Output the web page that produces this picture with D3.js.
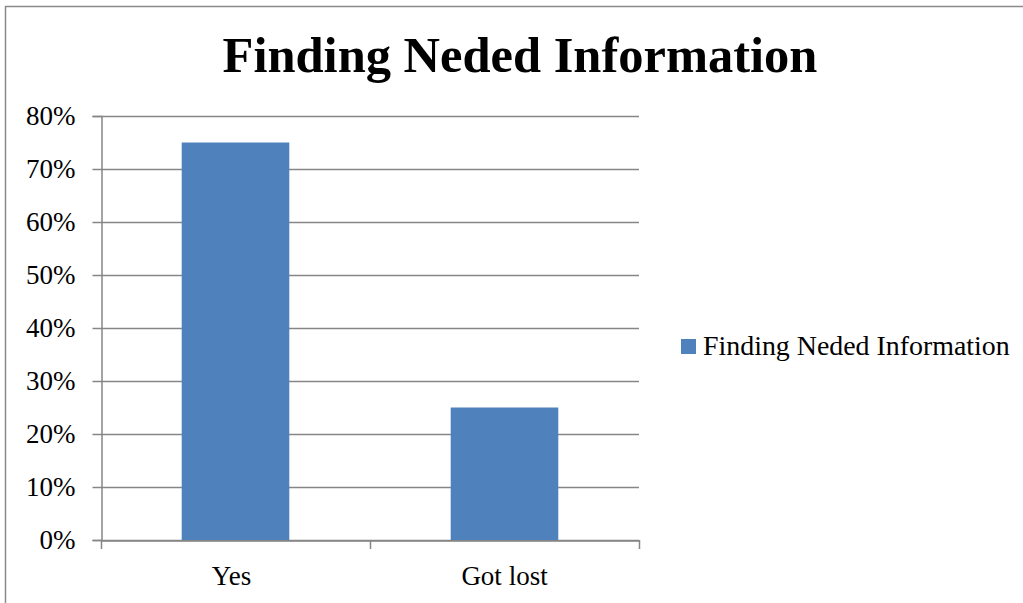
<!DOCTYPE html>
<html>
<head>
<meta charset="utf-8">
<script src="https://cdn.jsdelivr.net/npm/d3@7"></script>
<style>
  html, body { margin: 0; padding: 0; background: #fff; overflow: hidden; }
  svg { display: block; overflow: hidden; }
  text { font-family: "Liberation Serif", "DejaVu Serif", serif; fill: #000; }
</style>
</head>
<body>
<svg id="chart" width="1023" height="603"></svg>
<script>
// Chart data
const title = "Finding Neded Information";
const categories = ["Yes", "Got lost"];
const values = [0.75, 0.25];
const seriesName = "Finding Neded Information";
const yTicks = [0, 0.1, 0.2, 0.3, 0.4, 0.5, 0.6, 0.7, 0.8];

const svg = d3.select("#chart");
const gridColor = "#868686";
const barColor = "#4F81BD";

// White page background
svg.append("rect")
  .attr("width", 1023).attr("height", 603)
  .attr("fill", "#fff");

// Chart frame (left and top edges; the rest runs off the page)
svg.append("path")
  .attr("d", "M5.5,603 L5.5,6.5 L1023,6.5")
  .attr("fill", "none")
  .attr("stroke", "#8a8a8a")
  .attr("stroke-width", 1.5);

// Plot area
const plot = { left: 101, right: 639, top: 116, bottom: 540 };

const x = d3.scaleBand()
  .domain(categories)
  .range([plot.left, plot.right]);

const y = d3.scaleLinear()
  .domain([0, 0.8])
  .range([plot.bottom, plot.top]);

// Horizontal gridlines
svg.append("g")
  .selectAll("line")
  .data(yTicks)
  .join("line")
  .attr("x1", plot.left).attr("x2", plot.right)
  .attr("y1", d => Math.round(y(d)) + 0.5)
  .attr("y2", d => Math.round(y(d)) + 0.5)
  .attr("stroke", gridColor)
  .attr("stroke-width", 1.5);

// Bars
const barFrac = 0.4;
svg.append("g")
  .selectAll("rect")
  .data(categories.map((c, i) => ({ c, v: values[i] })))
  .join("rect")
  .attr("x", d => x(d.c) + x.bandwidth() * (1 - barFrac) / 2)
  .attr("width", x.bandwidth() * barFrac)
  .attr("y", d => y(d.v))
  .attr("height", d => y(0) - y(d.v))
  .attr("fill", barColor);

// Y axis
const yAxis = svg.append("g")
  .attr("transform", `translate(${plot.left + 0.5},0)`)
  .call(d3.axisLeft(y)
    .tickValues(yTicks)
    .tickFormat(d3.format(".0%"))
    .tickSize(9)
    .tickPadding(17));
yAxis.select(".domain").attr("stroke", gridColor).attr("stroke-width", 1.5);
yAxis.selectAll(".tick line").attr("stroke", gridColor).attr("stroke-width", 1.5);
yAxis.selectAll(".tick text")
  .attr("font-size", 27)
  .attr("font-family", "'Liberation Serif', serif")
  .attr("fill", "#000");

// X axis
const xAxis = svg.append("g")
  .attr("transform", `translate(0,${plot.bottom + 0.5})`)
  .call(d3.axisBottom(x).tickSize(0).tickPadding(25));
xAxis.select(".domain").attr("stroke", gridColor).attr("stroke-width", 1.5);
xAxis.selectAll(".tick text")
  .attr("font-size", 27)
  .attr("font-family", "'Liberation Serif', serif")
  .attr("fill", "#000")
  .attr("dx", (d, i) => i === 0 ? -4 : 0);

// Category separator ticks
const sepTicks = [plot.left, ...categories.map(c => x(c) + x.bandwidth())];
svg.append("g")
  .selectAll("line")
  .data(sepTicks)
  .join("line")
  .attr("x1", d => Math.round(d) + 0.5).attr("x2", d => Math.round(d) + 0.5)
  .attr("y1", plot.bottom).attr("y2", plot.bottom + 9)
  .attr("stroke", gridColor)
  .attr("stroke-width", 1.5);

// Title
svg.append("text")
  .attr("x", 520).attr("y", 72)
  .attr("text-anchor", "middle")
  .attr("font-size", 50.5)
  .attr("font-weight", "bold")
  .text(title);

// Legend
const legend = svg.append("g").attr("transform", "translate(681,339)");
legend.append("rect")
  .attr("width", 15).attr("height", 15)
  .attr("fill", barColor);
legend.append("text")
  .attr("x", 22).attr("y", 16)
  .attr("font-size", 27.9)
  .text(seriesName);
</script>
</body>
</html>
